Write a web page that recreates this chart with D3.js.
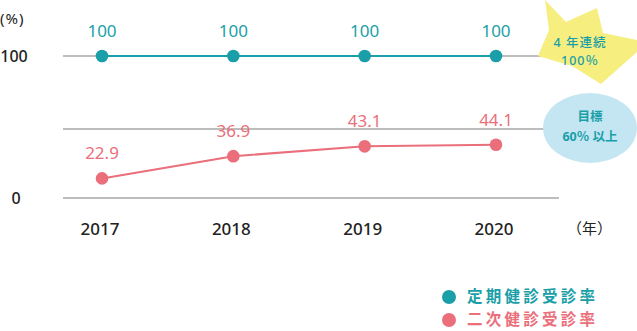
<!DOCTYPE html>
<html><head><meta charset="utf-8">
<script src="https://cdn.jsdelivr.net/npm/d3@7"></script>
<style>
html,body{margin:0;padding:0;background:#fff;}
svg{display:block;font-family:"Noto Sans","Noto Sans CJK JP",sans-serif;}
</style></head>
<body><svg id="c" width="637" height="331"></svg>
<script>
const years = ["2017","2018","2019","2020"];
const regularRate = [100,100,100,100];
const secondaryRate = [22.9,36.9,43.1,44.1];
const seriesNames = ["定期健診受診率","二次健診受診率"];
const gridValues = [0,54,100];
const yTickLabels = ["0","","100"];
const starText = ["4 年連続","100％"];
const targetText = ["目標","60％ 以上"];

const teal = "#1a9fa8", red = "#ea6f7b", grid = "#bdbdbd";
const svg = d3.select("#c");

const x = d3.scalePoint().domain(years).range([102,496]);
const y = d3.scaleLinear().domain([0,20,100]).range([198,183,56]);

const star = [[545,0],[566,22],[597,8],[603,33],[637,40],[637,52],[601,84],[572,66],[538,56],[549,30]];

svg.append("g").selectAll("line").data(gridValues).join("line")
  .attr("x1",63).attr("x2",(d,i)=>i===0?559:545)
  .attr("y1",d=>y(d)).attr("y2",d=>y(d))
  .attr("stroke",grid).attr("stroke-width",2);

svg.append("polygon").attr("points",star.map(p=>p.join(",")).join(" "))
  .attr("fill","#f6ee7e");
svg.append("g").selectAll("text").data(starText).join("text")
  .attr("x",580).attr("y",(d,i)=>47+i*18).attr("text-anchor","middle")
  .attr("fill",teal).attr("font-size",12.5).attr("font-weight",500).attr("letter-spacing",1)
  .text(d=>d);

svg.append("ellipse").attr("cx",590).attr("cy",128).attr("rx",47).attr("ry",35).attr("fill","#c4e6f3");
svg.append("g").selectAll("text").data(targetText).join("text")
  .attr("x",590).attr("y",(d,i)=>121+i*20).attr("text-anchor","middle")
  .attr("fill",teal).attr("font-size",12.5).attr("font-weight",700)
  .text(d=>d);

svg.append("g").selectAll("text").data(gridValues).join("text")
  .attr("x",(d,i)=>i===0?16:14).attr("y",d=>y(d)+6).attr("text-anchor","middle")
  .attr("fill","#222").attr("font-size",16).attr("font-weight",500)
  .text((d,i)=>yTickLabels[i]);
svg.append("text").attr("x",0).attr("y",24).attr("fill","#222").attr("font-size",15).attr("letter-spacing",1).text("(%)");

svg.append("g").selectAll("text").data(years).join("text")
  .attr("x",d=>x(d)-2).attr("y",235).attr("text-anchor","middle")
  .attr("fill","#222").attr("font-size",17).attr("font-weight",500).text(d=>d);
svg.append("text").attr("x",567).attr("y",234)
  .attr("fill","#222").attr("font-size",15).attr("font-family","Noto Sans CJK JP")
  .attr("textLength",45).attr("lengthAdjust","spacing").text("（年）");

const series = [{vals:regularRate,color:teal},{vals:secondaryRate,color:red}];
const line = d3.line().x((d,i)=>x(years[i])).y(d=>y(d));
series.forEach(s=>{
  svg.append("path").attr("d",line(s.vals)).attr("fill","none").attr("stroke",s.color).attr("stroke-width",2);
  svg.append("g").selectAll("circle").data(s.vals).join("circle")
    .attr("cx",(d,i)=>x(years[i])).attr("cy",d=>y(d)).attr("r",6.3).attr("fill",s.color);
  svg.append("g").selectAll("text").data(s.vals).join("text")
    .attr("x",(d,i)=>x(years[i])).attr("y",d=>y(d)-19).attr("text-anchor","middle")
    .attr("fill",s.color).attr("font-size",17).text(d=>d);
});

const lg = svg.append("g").selectAll("g").data(seriesNames).join("g")
  .attr("transform",(d,i)=>`translate(449,${297+i*23})`);
lg.append("circle").attr("r",7).attr("fill",(d,i)=>series[i].color);
lg.append("text").attr("x",18).attr("y",5).attr("fill",(d,i)=>series[i].color)
  .attr("font-family","Noto Sans CJK JP")
  .attr("font-size",15.5).attr("font-weight",700)
  .attr("textLength",128).attr("lengthAdjust","spacing").text(d=>d);
</script></body></html>
